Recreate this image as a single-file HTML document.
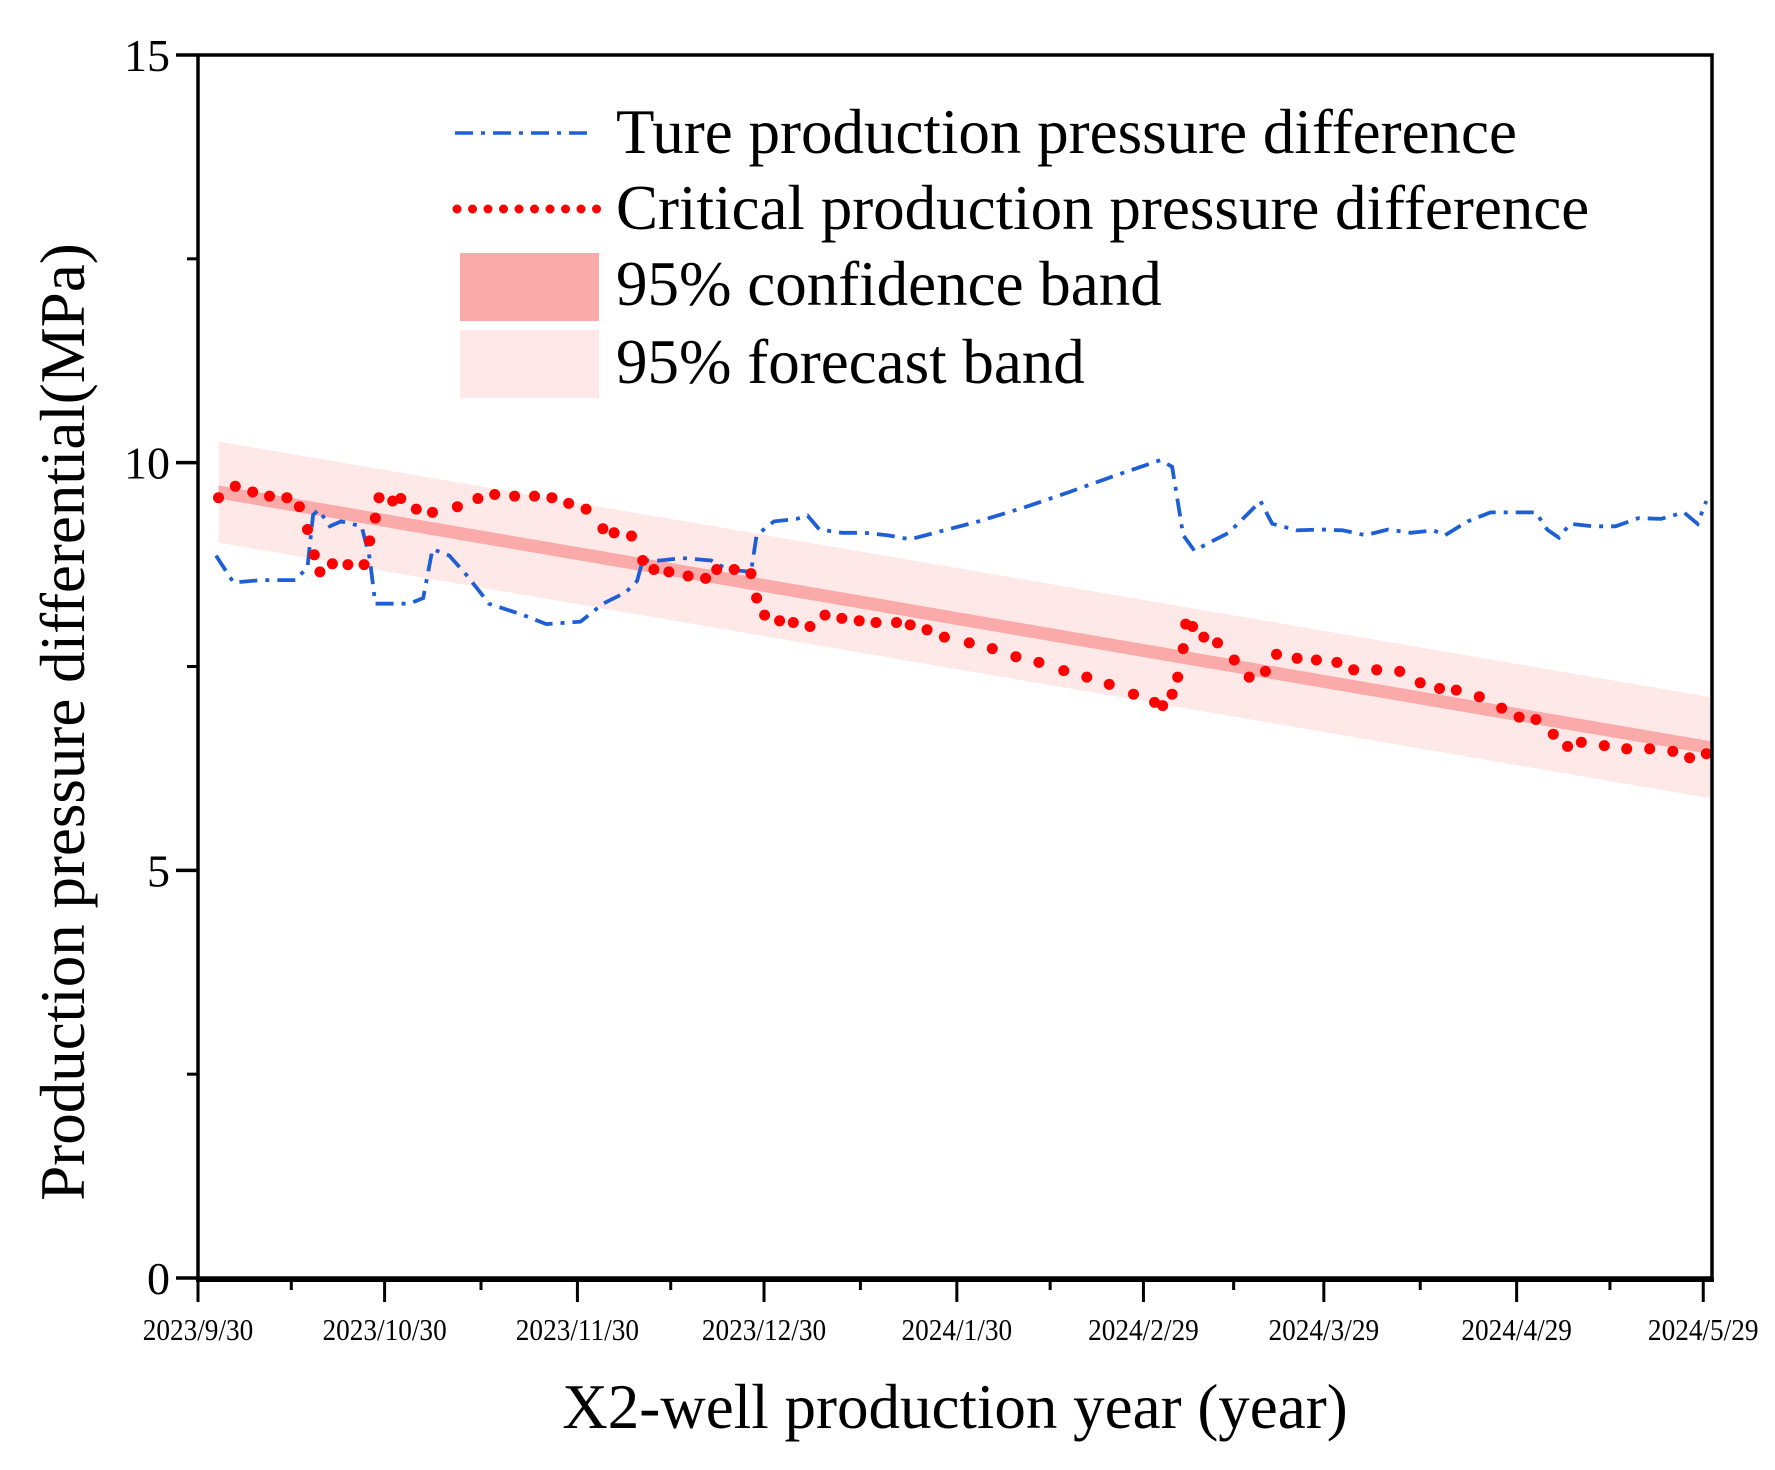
<!DOCTYPE html>
<html><head><meta charset="utf-8"><style>
html,body{margin:0;padding:0;background:#fff}
svg{display:block;font-family:"Liberation Serif",serif}
</style></head><body>
<svg id="chart" width="1775" height="1470" viewBox="0 0 1775 1470" xmlns="http://www.w3.org/2000/svg">
<g id="bands"></g>
<g id="series"></g>
<g id="axes"></g>
<g id="legend">
  <line x1="455" y1="133" x2="594" y2="133" stroke="#1f5fd6" stroke-width="3.5" stroke-dasharray="18 8 4 8"/>
  <text x="616" y="153" font-size="63">Ture production pressure difference</text>
  <line x1="457" y1="209" x2="600" y2="209" stroke="#ff0000" stroke-width="9" stroke-linecap="round" stroke-dasharray="0 15.5"/>
  <text x="616" y="229" font-size="63">Critical production pressure difference</text>
  <rect x="460" y="253" width="139" height="68" fill="#f9aaa9"/>
  <text x="616" y="305" font-size="63">95% confidence band</text>
  <rect x="460" y="330" width="139" height="68" fill="#ffe8e8"/>
  <text x="616" y="383" font-size="63">95% forecast band</text>
</g>
<text transform="translate(84,722) rotate(-90)" text-anchor="middle" font-size="63">Production pressure differential(MPa)</text>
<text x="955" y="1428" text-anchor="middle" font-size="63">X2-well production year (year)</text>
</svg>
<script>
const trueDays=[2.9,5.7,10.2,15.7,17.6,18.5,19.4,21.2,23.0,26.3,27.6,28.5,31.3,34.0,36.2,37.7,40.4,43.2,46.8,52.3,56.0,61.5,65.1,68.8,70.6,71.5,74.3,77.9,82.5,85.2,88.9,89.8,92.6,96.2,98.0,99.9,103.5,107.2,110.8,114.5,120.0,125.5,132.8,140.1,147.4,154.7,156.6,157.5,158.4,160.2,162.1,165.7,169.4,170.8,172.7,176.7,180.4,184.0,187.7,191.3,195.0,198.6,200.5,204.1,207.8,211.5,215.1,216.9,218.8,220.6,224.3,227.9,231.6,235.2,238.9,241.1,242.5];
const trueVals=[8.86,8.53,8.56,8.56,8.72,9.36,9.42,9.22,9.28,9.22,8.83,8.27,8.27,8.27,8.34,8.94,8.86,8.62,8.27,8.13,8.02,8.05,8.27,8.41,8.55,8.80,8.80,8.83,8.80,8.69,8.66,9.11,9.28,9.31,9.35,9.18,9.14,9.14,9.11,9.06,9.17,9.28,9.45,9.64,9.84,10.03,9.95,9.53,9.11,8.92,9.00,9.14,9.42,9.53,9.25,9.17,9.18,9.17,9.11,9.18,9.14,9.17,9.11,9.28,9.39,9.39,9.39,9.18,9.08,9.25,9.22,9.22,9.32,9.31,9.39,9.25,9.53];
const critDisp=[[192,437],[207,427],[222,432],[237,436],[252,437],[263,445],[270,465],[276,487],[281,502],[292,495],[306,496],[320,496],[325,475],[330,455],[333,437],[345,440],[352,438],[366,447],[380,450],[402,445],[420,438],[435,434],[452,436],[470,436],[485,437],[500,442],[515,447],[530,464],[540,468],[555,471],[565,492],[575,500],[588,502],[605,506],[620,508],[630,500],[645,500],[660,504],[665,525],[672,540],[685,545],[697,547],[712,550],[725,540],[740,543],[755,545],[770,547],[788,547],[800,549],[815,553],[830,560],[852,565],[872,570],[893,577],[913,582],[935,589],[955,595],[975,601],[996,610],[1015,617],[1022,620],[1030,610],[1035,595],[1040,570],[1042,548],[1048,550],[1058,560],[1070,565],[1085,580],[1098,595],[1112,590],[1122,575],[1140,578],[1157,580],[1175,582],[1190,588],[1210,588],[1230,590],[1248,600],[1265,605],[1280,606],[1300,612],[1320,622],[1335,630],[1350,632],[1365,645],[1378,656],[1390,652],[1410,655],[1430,658],[1450,658],[1470,660],[1485,666],[1500,662]];
const critDays=critDisp.map(p=>+((p[0]-174)/5.467).toFixed(1));
const critVals=critDisp.map(p=>+((1123-p[1])/71.67).toFixed(2));
const fitStart=[3.3,9.64];
const fitEnd=[243.5,6.50];
const confHalf=0.08;
const forecastHalf=0.62;
const xTickDays=[0,30,61,91,122,152,181,212,242];
const xTickLabels=["2023/9/30","2023/10/30","2023/11/30","2023/12/30","2024/1/30","2024/2/29","2024/3/29","2024/4/29","2024/5/29"];
const yTicks=[0,5,10,15];

const NS="http://www.w3.org/2000/svg";
const L=198,R=1712,T=55,B=1278;
const X=d=>L+d*6.22;
const Y=v=>B-(v-0)*(B-T)/15;
function mk(tag,attrs,parent){const e=document.createElementNS(NS,tag);for(const k in attrs)e.setAttribute(k,attrs[k]);parent.appendChild(e);return e;}
const bands=document.getElementById('bands'),series=document.getElementById('series'),axes=document.getElementById('axes');

function band(h,fill,name){
  const p=mk('polygon',{points:`${X(fitStart[0])},${Y(fitStart[1]+h)} ${X(fitEnd[0])},${Y(fitEnd[1]+h)} ${X(fitEnd[0])},${Y(fitEnd[1]-h)} ${X(fitStart[0])},${Y(fitStart[1]-h)}`,fill:fill},bands);
  
  
}
band(forecastHalf,'#ffe8e8','forecast-band');
band(confHalf,'#f9aaa9','confidence-band');

const bl=mk('path',{d:trueDays.map((d,i)=>(i?'L':'M')+X(d).toFixed(1)+','+Y(trueVals[i]).toFixed(1)).join(''),fill:'none',stroke:'#1f5fd6','stroke-width':3.8,'stroke-dasharray':'18 8 4 8'},series);



critDays.forEach((d,i)=>{
  const c=mk('circle',{cx:X(d).toFixed(1),cy:Y(critVals[i]).toFixed(1),r:5.5,fill:'#ff0000'},series);
  
  
});

const fr=mk('rect',{x:L,y:T,width:R-L,height:B-T,fill:'none',stroke:'#000','stroke-width':3.5},axes);


mk('line',{x1:L-2,y1:B+2,x2:R+2,y2:B+2,stroke:'#000','stroke-width':4},axes);

yTicks.forEach(v=>{
  const t=mk('line',{x1:L-22,y1:Y(v),x2:L,y2:Y(v),stroke:'#000','stroke-width':3.5},axes);
  
  
  const lb=mk('text',{x:L-28,y:Y(v)+16,'text-anchor':'end','font-size':46},axes);
  lb.textContent=v;
  
  
});
for(let v=2.5;v<15;v+=5){mk('line',{x1:L-11,y1:Y(v),x2:L,y2:Y(v),stroke:'#000','stroke-width':3},axes);}

xTickDays.forEach((d,i)=>{
  const t=mk('line',{x1:X(d),y1:B,x2:X(d),y2:B+24,stroke:'#000','stroke-width':3},axes);
  
  
  if(i<xTickDays.length-1){mk('line',{x1:X((d+xTickDays[i+1])/2),y1:B,x2:X((d+xTickDays[i+1])/2),y2:B+12,stroke:'#000','stroke-width':3},axes);}
  const lb=mk('text',{x:X(d),y:1340,'text-anchor':'middle','font-size':31,transform:`translate(${X(d)},0) scale(0.88,1) translate(${-X(d)},0)`},axes);
  lb.textContent=xTickLabels[i];
  
  
});
</script>
</body></html>
